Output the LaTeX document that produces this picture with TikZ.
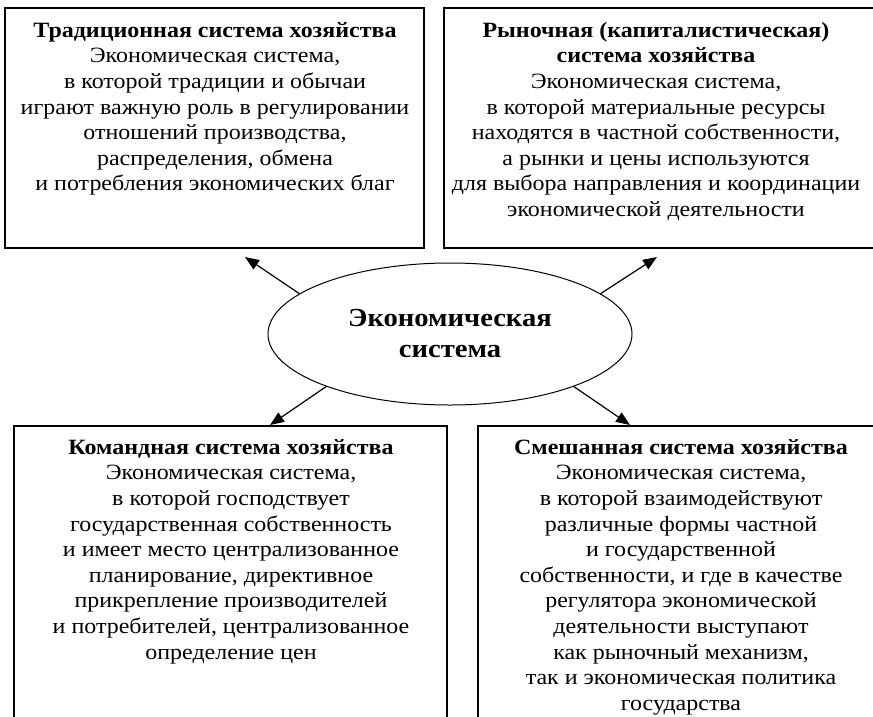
\documentclass[tikz,border=0pt]{standalone}
\usepackage{fontspec}
\setmainfont[FakeStretch=1.1]{Liberation Serif}
\usetikzlibrary{arrows.meta,shapes.geometric}
\tikzset{
  frame/.style={draw=black,line width=1.5pt,rectangle,inner sep=0pt},
  body/.style={anchor=north,align=center,inner sep=0pt,font=\fontsize{21.8}{25.6}\selectfont},
  oval/.style={draw=black,line width=1pt,ellipse,minimum width=364pt,minimum height=142pt,inner sep=0pt,align=center,font=\fontsize{26}{31}\selectfont\bfseries},
  link/.style={line width=1.2pt,-{Triangle[length=14pt,width=11pt]}}
}
\begin{document}
\begin{tikzpicture}[x=1pt,y=-1pt]
\clip (0,0) rectangle (873,716);
\fill[white] (0,0) rectangle (873,716);
% boxes
\node[frame,minimum width=419pt,minimum height=240pt] (tl) at (214.5,128) {};
\node[frame,minimum width=436pt,minimum height=240pt] (tr) at (662,128) {};
\node[frame,minimum width=433pt,minimum height=310pt] (bl) at (230.5,581) {};
\node[frame,minimum width=405pt,minimum height=310pt] (br) at (680.5,581) {};
% texts
\node[body] (tltext) at (215,22) {\textbf{Традиционная система хозяйства}\\
Экономическая система,\\
в которой традиции и обычаи\\
играют важную роль в регулировании\\
отношений производства,\\
распределения, обмена\\
и потребления экономических благ};
\node[body] (trtext) at (656,22) {\textbf{Рыночная (капиталистическая)}\\
\textbf{система хозяйства}\\
Экономическая система,\\
в которой материальные ресурсы\\
находятся в частной собственности,\\
а рынки и цены используются\\
для выбора направления и координации\\
экономической деятельности};
\node[body] (bltext) at (231,439) {\textbf{Командная система хозяйства}\\
Экономическая система,\\
в которой господствует\\
государственная собственность\\
и имеет место централизованное\\
планирование, директивное\\
прикрепление производителей\\
и потребителей, централизованное\\
определение цен};
\node[body] (brtext) at (681,439) {\textbf{Смешанная система хозяйства}\\
Экономическая система,\\
в которой взаимодействуют\\
различные формы частной\\
и государственной\\
собственности, и где в качестве\\
регулятора экономической\\
деятельности выступают\\
как рыночный механизм,\\
так и экономическая политика\\
государства};
% centre
\node[oval] (ell) at (450,334) {Экономическая\\система};
% arrow ends
\coordinate (tlend) at (245,257);
\coordinate (trend) at (657,257);
\coordinate (blend) at (270,425);
\coordinate (brend) at (630,425);
\draw[link] (ell.165) -- (tlend);
\draw[link] (ell.15) -- (trend);
\draw[link] (ell.203.5) -- (blend);
\draw[link] (ell.337) -- (brend);
\end{tikzpicture}
\end{document}
